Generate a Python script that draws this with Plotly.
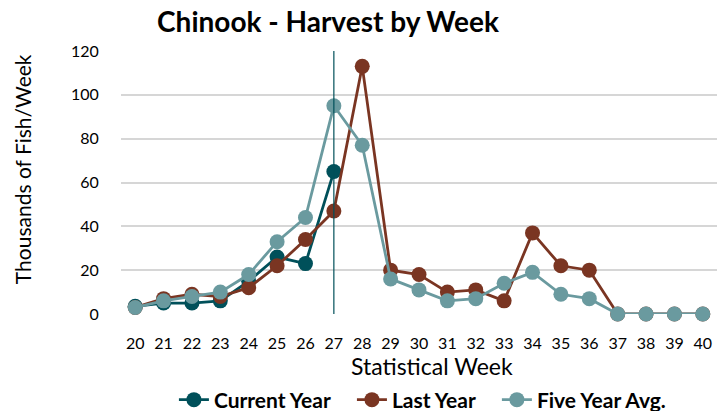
import plotly.graph_objects as go

weeks = list(range(20, 41))
current_year = [3.5, 5, 5, 6, 15, 26, 23, 65]
last_year = [3, 7, 9, 8, 12, 22, 34, 47, 113, 20, 18, 10, 11, 6, 37, 22, 20, 0, 0, 0, 0]
five_year = [3, 6, 8, 10, 18, 33, 44, 95, 77, 16, 11, 6, 7, 14, 19, 9, 7, 0, 0, 0, 0]
current_week = 27

FONT = "Lato"
c_cur = "#00505A"
c_last = "#7A3522"
c_five = "#6A9A9F"

series = [("Current Year", weeks[:len(current_year)], current_year, c_cur),
          ("Last Year", weeks, last_year, c_last),
          ("Five Year Avg.", weeks, five_year, c_five)]

fig = go.Figure()
for name, xs, ys, col in series:
    fig.add_trace(go.Scatter(x=xs, y=ys, name="<b>" + name + "</b>\u00a0\u00a0\u00a0",
                             mode="lines+markers", line=dict(color=col, width=2.8),
                             marker=dict(size=15, color=col), cliponaxis=False))

fig.add_shape(type="line", x0=current_week, x1=current_week, y0=0, y1=120,
              xref="x", yref="y", line=dict(color=c_cur, width=1.2), layer="above")

fig.add_annotation(text="Statistical Week", xref="paper", yref="paper",
                   x=0.522, y=-0.198, xanchor="center", yanchor="middle",
                   showarrow=False, font=dict(size=23, family=FONT, color="#000"))
fig.add_annotation(text="Thousands of Fish/Week", xref="paper", yref="paper",
                   x=-0.166, y=0.551, xanchor="center", yanchor="middle", textangle=-90,
                   showarrow=False, font=dict(size=21, family=FONT, color="#000"))

fig.update_layout(
    width=717, height=411,
    margin=dict(l=121, r=0, t=51, b=97, autoexpand=False),
    paper_bgcolor="white", plot_bgcolor="white",
    font=dict(family=FONT, size=16, color="#000000"),
    title=dict(text="<b>Chinook - Harvest by Week</b>", x=0.4575, xanchor="center",
               y=0.945, yanchor="middle", font=dict(size=28, family=FONT)),
    xaxis=dict(range=[19.5, 40.5], tickmode="array", tickvals=weeks,
               ticktext=[str(w) for w in weeks], showgrid=False, zeroline=False,
               showline=False, ticks="outside", ticklen=15, tickcolor="rgba(0,0,0,0)",
               tickfont=dict(size=16), automargin=False),
    yaxis=dict(range=[0, 120], tickvals=[0, 20, 40, 60, 80, 100, 120],
               showgrid=True, gridcolor="#D6D6D6", gridwidth=1.5, zeroline=False,
               showline=False, ticks="outside", ticklen=18, tickcolor="rgba(0,0,0,0)",
               tickfont=dict(size=16), automargin=False),
    legend=dict(orientation="h", x=0.52, xanchor="center", y=-0.327, yanchor="middle",
                font=dict(size=21, family=FONT), traceorder="normal"),
    showlegend=True,
)

fig.write_html("out.html", config={"displayModeBar": False},
               post_script="document.body.style.margin='0';document.body.style.overflow='hidden';")
